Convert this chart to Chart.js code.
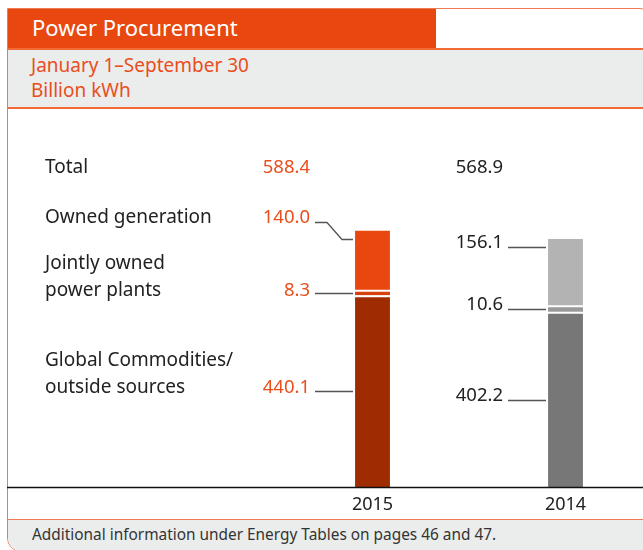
<!DOCTYPE html>
<html>
<head>
<meta charset="utf-8">
<script src="https://cdn.jsdelivr.net/npm/chart.js@4/dist/chart.umd.min.js"></script>
<style>
    html, body {
        margin: 0;
        padding: 0;
        width: 643px;
        height: 550px;
        overflow: hidden;
        background: #fff;
        font-family: "Noto Sans", sans-serif;
    }
    .frame {
        position: absolute;
        left: 7px;
        top: 8px;
        width: 643px;
        height: 544px;
        border: 1.5px solid #ef7a52;
        border-radius: 0 10px 0 14px;
        box-sizing: border-box;
        overflow: hidden;
    }
    .title {
        position: absolute;
        left: -2px;
        top: -2px;
        width: 430px;
        height: 42px;
        background: #e8470f;
        color: #fff;
        font-size: 22px;
        line-height: 40px;
        padding-left: 26px;
        box-sizing: border-box;
    }
    .subtitle {
        position: absolute;
        left: 0;
        right: 0;
        top: 39px;
        height: 61px;
        background: #ebeded;
        border-top: 2px solid #f26a35;
        border-bottom: 2px solid #f26a35;
        color: #e94e1b;
        font-size: 19px;
        line-height: 25px;
        padding: 3px 0 0 23px;
        box-sizing: border-box;
    }
    .footer {
        position: absolute;
        left: 0;
        right: 0;
        top: 510px;
        bottom: 0;
        background: #ebeded;
        border-top: 1.5px solid #ef7a52;
        color: #333;
        font-size: 15.4px;
        line-height: 30px;
        padding-left: 24px;
        box-sizing: border-box;
    }
    #chartBox {
        position: absolute;
        left: 0;
        top: 108px;
        width: 662px;
        height: 420px;
    }
</style>
</head>
<body>
<div class="frame">
    <div class="title">Power Procurement</div>
    <div class="subtitle">January 1–September 30<br>Billion kWh</div>
    <div class="footer">Additional information under Energy Tables on pages 46 and 47.</div>
</div>
<div id="chartBox"><canvas id="procurement"></canvas></div>

<script>
const years = ['2015', '2014'];
const seriesNames = [['Global Commodities/', 'outside sources'], ['Jointly owned', 'power plants'], ['Owned generation']];
const outsideSources = [440.1, 402.2];
const jointlyOwned = [8.3, 10.6];
const ownedGeneration = [140.0, 156.1];

const orange = '#e94e1b';
const textColor = '#222';

// rows of the left hand labels (canvas px), bottom series first
const totalRow = 60;
const labelRows = [280, 183, 110];
const lineGap = 27;

const leaders = {
    id: 'leaders',
    afterDatasetsDraw(chart) {
        var ctx = chart.ctx;
        var base = Math.round(chart.scales.y.getPixelForValue(0)) + 0.5;
        var sets = chart.data.datasets;

        ctx.save();
        ctx.strokeStyle = '#111';
        ctx.lineWidth = 1.5;
        ctx.beginPath();
        ctx.moveTo(7, base);
        ctx.lineTo(chart.width, base);
        ctx.stroke();

        ctx.font = '19px "Noto Sans"';
        ctx.textBaseline = 'middle';
        ctx.textAlign = 'left';
        ctx.fillStyle = textColor;
        ctx.fillText('Total', 45, totalRow);
        seriesNames.forEach(function (lines, i) {
            lines.forEach(function (ln, j) {
                ctx.fillText(ln, 45, labelRows[i] - (lines.length - 1 - j) * lineGap);
            });
        });

        ctx.font = '18.5px "Noto Sans"';
        years.forEach(function (yr, c) {
            var first = c === 0;
            var total = 0;
            var barLeft = 0;
            sets.forEach(function (ds, d) {
                var bar = chart.getDatasetMeta(d).data[c];
                total += ds.data[c];
                barLeft = Math.round(bar.x - bar.width / 2);
                var isTop = d === sets.length - 1;
                var target = Math.round(isTop ? bar.y + 8 : (bar.y + bar.base) / 2) + 0.5;
                var startY = target;
                var textY = target - 5;
                if (first) {
                    textY = labelRows[d];
                    if (Math.abs(labelRows[d] + 4 - target) > 4) startY = labelRows[d] + 4.5;
                }

                ctx.strokeStyle = '#555';
                ctx.lineWidth = 1.3;
                ctx.beginPath();
                ctx.moveTo(barLeft - 40, startY);
                if (startY !== target) {
                    ctx.lineTo(barLeft - 28, startY);
                    ctx.lineTo(barLeft - 13, target);
                }
                ctx.lineTo(barLeft - 2, target);
                ctx.stroke();

                ctx.fillStyle = first ? orange : textColor;
                ctx.textAlign = 'right';
                ctx.fillText(ds.data[c].toFixed(1), barLeft - 45, textY);
            });
            ctx.fillStyle = first ? orange : textColor;
            ctx.textAlign = 'right';
            ctx.fillText(total.toFixed(1), barLeft - 45, totalRow);
        });
        ctx.restore();
    }
};

new Chart(document.getElementById('procurement'), {
    type: 'bar',
    data: {
        labels: years,
        datasets: [{
            label: seriesNames[0].join(' '),
            data: outsideSources,
            backgroundColor: ['#9f2c00', '#777777'],
            borderColor: '#fff',
            borderWidth: { top: 2, bottom: 0, left: 0, right: 0 },
            borderSkipped: false
        }, {
            label: seriesNames[1].join(' '),
            data: jointlyOwned,
            backgroundColor: ['#d8400e', '#999999'],
            borderWidth: 0
        }, {
            label: seriesNames[2].join(' '),
            data: ownedGeneration,
            backgroundColor: ['#e8470f', '#b3b3b3'],
            borderColor: '#fff',
            borderWidth: { top: 0, bottom: 2, left: 0, right: 0 },
            borderSkipped: false
        }]
    },
    options: {
        responsive: true,
        maintainAspectRatio: false,
        animation: false,
        layout: {
            padding: { left: 276, right: 0, top: 0, bottom: 5 }
        },
        plugins: {
            legend: { display: false },
            tooltip: { enabled: false }
        },
        datasets: {
            bar: {
                barPercentage: 0.181,
                categoryPercentage: 1
            }
        },
        scales: {
            x: {
                stacked: true,
                grid: { display: false, drawTicks: false },
                border: { display: false },
                ticks: {
                    color: textColor,
                    padding: 7,
                    font: { family: 'Noto Sans', size: 18 }
                }
            },
            y: {
                stacked: true,
                display: false,
                min: 0,
                max: 869
            }
        }
    },
    plugins: [leaders]
});
</script>
</body>
</html>
